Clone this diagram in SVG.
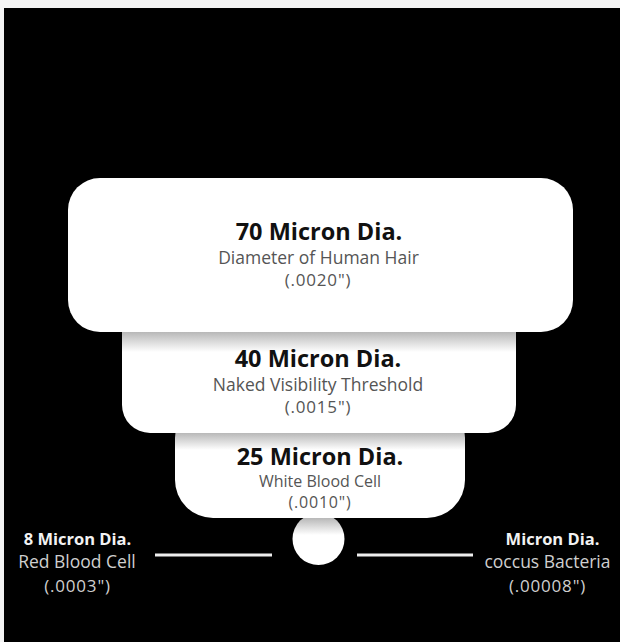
<svg xmlns="http://www.w3.org/2000/svg" width="620" height="642" viewBox="0 0 620 642">
  <style>
    .h { font-family: "Open Sans", "Liberation Sans", sans-serif; font-weight: 700; fill: #111; text-anchor: middle; }
    .s { font-family: "Open Sans", "Liberation Sans", sans-serif; font-weight: 400; fill: #555; text-anchor: middle; }
    .hw { font-family: "Open Sans", "Liberation Sans", sans-serif; font-weight: 700; fill: #f2f2f2; text-anchor: middle; }
    .sw { font-family: "Open Sans", "Liberation Sans", sans-serif; font-weight: 400; fill: #cfcfcf; text-anchor: middle; }
    .p { letter-spacing: 0.8px; }
    .ln { stroke: #eeeeee; stroke-width: 3; fill: none; }
  </style>
  <defs>
    <linearGradient id="g2" gradientUnits="userSpaceOnUse" x1="0" y1="332" x2="0" y2="352">
      <stop offset="0" stop-color="#b8b8b8"/>
      <stop offset="1" stop-color="#ffffff"/>
    </linearGradient>
    <linearGradient id="g3" gradientUnits="userSpaceOnUse" x1="0" y1="433" x2="0" y2="450">
      <stop offset="0" stop-color="#b8b8b8"/>
      <stop offset="1" stop-color="#ffffff"/>
    </linearGradient>
    <linearGradient id="g4" gradientUnits="userSpaceOnUse" x1="0" y1="518" x2="0" y2="535">
      <stop offset="0" stop-color="#b8b8b8"/>
      <stop offset="1" stop-color="#ffffff"/>
    </linearGradient>
  </defs>
  <rect x="0" y="0" width="620" height="642" fill="#f4f4f4"/>
  <rect x="4" y="8" width="616" height="634" fill="#000"/>

  <g id="connectors">
    <line class="ln" x1="155" y1="555" x2="272" y2="555"/>
    <line class="ln" x1="357" y1="555" x2="473" y2="555"/>
  </g>

  <g id="coccus">
    <circle cx="318.5" cy="539" r="26" fill="url(#g4)"/>
  </g>

  <g id="wbc">
    <rect x="175" y="400" width="290" height="118" rx="38" fill="url(#g3)"/>
    <text class="h" x="320" y="465" font-size="23.5">25 Micron Dia.</text>
    <text class="s" x="320" y="487" font-size="16">White Blood Cell</text>
    <text class="s p" x="320" y="508" font-size="16">(.0010")</text>
  </g>

  <g id="visibility">
    <rect x="122" y="300" width="394" height="133" rx="28" fill="url(#g2)"/>
    <text class="h" x="318" y="367" font-size="23.5">40 Micron Dia.</text>
    <text class="s" x="318" y="391" font-size="17.5">Naked Visibility Threshold</text>
    <text class="s p" x="318" y="413" font-size="17">(.0015")</text>
  </g>

  <g id="hair">
    <rect x="68" y="178" width="505" height="154" rx="32" fill="#fff"/>
    <text class="h" x="319" y="240" font-size="23.5">70 Micron Dia.</text>
    <text class="s" x="318.5" y="264" font-size="17.5">Diameter of Human Hair</text>
    <text class="s p" x="318" y="286" font-size="17">(.0020")</text>
  </g>

  <g id="rbc">
    <text class="hw" x="77.5" y="545" font-size="16.5">8 Micron Dia.</text>
    <text class="sw" x="77" y="568" font-size="17.5">Red Blood Cell</text>
    <text class="sw p" x="77.5" y="592" font-size="17">(.0003")</text>
  </g>

  <g id="bacteria">
    <text class="hw" x="552.5" y="545" font-size="16.5">Micron Dia.</text>
    <text class="sw" x="547.5" y="568" font-size="17.5">coccus Bacteria</text>
    <text class="sw p" x="547.5" y="592" font-size="17">(.00008")</text>
  </g>
</svg>
